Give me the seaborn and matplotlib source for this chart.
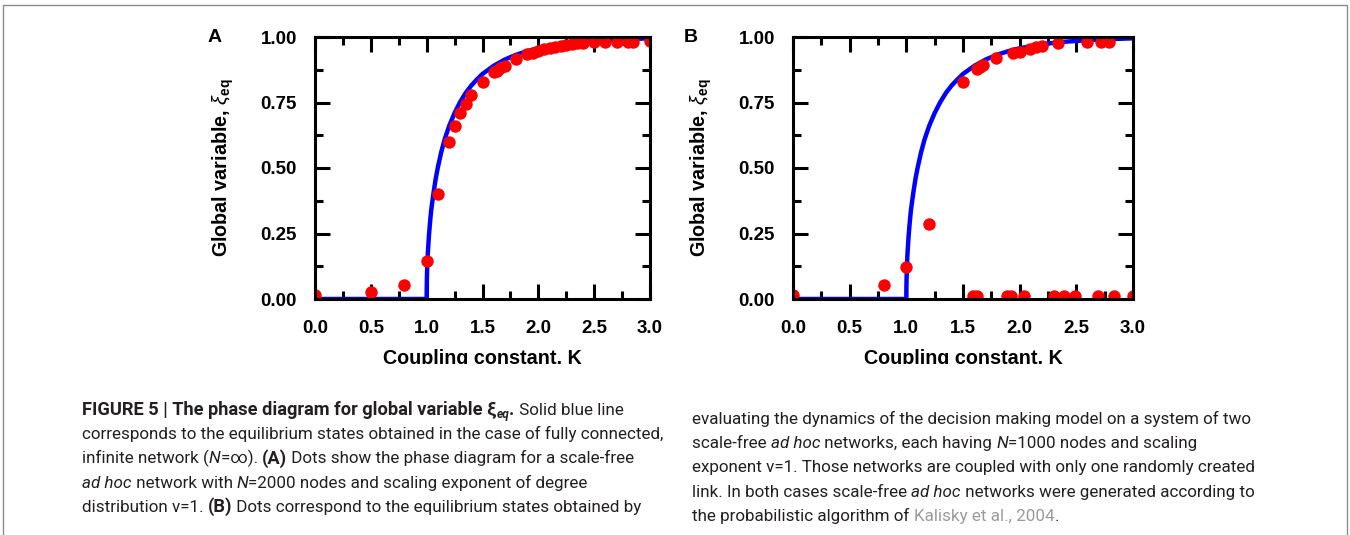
import numpy as np
import pandas as pd
import matplotlib
matplotlib.use("Agg")
import matplotlib.pyplot as plt
import seaborn as sns
from matplotlib.transforms import IdentityTransform
from matplotlib.patches import Rectangle

# ---------------- data ----------------
curve_k = [0.0, 0.5, 1.0, 1.0005, 1.002, 1.005, 1.01, 1.02, 1.03, 1.04, 1.06, 1.08,
           1.1, 1.13, 1.16, 1.2, 1.25, 1.3, 1.35, 1.4, 1.45, 1.5, 1.6, 1.7, 1.8, 1.9,
           2.0, 2.2, 2.4, 2.6, 2.8, 3.0]
curve_xi = [0.0, 0.0, 0.0, 0.039, 0.077, 0.122, 0.172, 0.24, 0.292, 0.337, 0.401, 0.457,
            0.502, 0.56, 0.608, 0.659, 0.71, 0.752, 0.787, 0.815, 0.838, 0.859, 0.89, 0.914,
            0.932, 0.946, 0.957, 0.973, 0.982, 0.988, 0.992, 0.995]

a_k = [0.0, 0.5, 0.8, 1.0, 1.1, 1.2, 1.25, 1.3, 1.35, 1.4, 1.5, 1.6, 1.63, 1.66, 1.7,
       1.8, 1.9, 1.95, 2.0, 2.05, 2.1, 2.15, 2.2, 2.25, 2.3, 2.35, 2.4, 2.5, 2.6, 2.7,
       2.8, 2.85, 3.0]
a_xi = [0.015, 0.027, 0.052, 0.145, 0.40, 0.60, 0.66, 0.71, 0.745, 0.78, 0.83, 0.865,
        0.872, 0.88, 0.89, 0.915, 0.935, 0.94, 0.948, 0.953, 0.957, 0.962, 0.966, 0.97,
        0.975, 0.978, 0.978, 0.98, 0.98, 0.98, 0.982, 0.982, 0.985]

b_k = [0.0, 0.8, 1.0, 1.2, 1.5, 1.62, 1.65, 1.68, 1.79, 1.94, 2.0, 2.09, 2.14, 2.2,
       2.34, 2.59, 2.72, 2.79,
       1.59, 1.62, 1.89, 1.92, 2.04, 2.3, 2.39, 2.49, 2.69, 2.83, 3.0]
b_xi = [0.015, 0.052, 0.121, 0.285, 0.829, 0.877, 0.884, 0.893, 0.918, 0.94, 0.944, 0.955,
        0.96, 0.966, 0.976, 0.98, 0.982, 0.982,
        0.01, 0.01, 0.01, 0.01, 0.01, 0.01, 0.01, 0.01, 0.01, 0.01, 0.01]

x_ticks = [0.0, 0.5, 1.0, 1.5, 2.0, 2.5, 3.0]
x_tick_labels = ["0.0", "0.5", "1.0", "1.5", "2.0", "2.5", "3.0"]
x_minor = [0.25, 0.75, 1.25, 1.75, 2.25, 2.75]
y_ticks = [0.0, 0.25, 0.5, 0.75, 1.0]
y_tick_labels = ["0.00", "0.25", "0.50", "0.75", "1.00"]
y_minor = [0.125, 0.375, 0.625, 0.875]

panel_letters = ["A", "B"]
x_label = "Coupling constant, K"
y_label = r"Global variable, $\xi_{\mathbf{eq}}$"

# ---------------- style ----------------
sns.set_theme(style="white")
plt.rcParams["font.family"] = ["Liberation Sans", "DejaVu Sans"]
plt.rcParams["mathtext.fontset"] = "custom"
plt.rcParams["mathtext.rm"] = "Liberation Sans"
plt.rcParams["mathtext.bf"] = "Liberation Sans:bold"
plt.rcParams["mathtext.it"] = "Liberation Sans:italic"

W, H = 1350, 535
fig = plt.figure(figsize=(W / 100, H / 100), dpi=100)
fig.patch.set_facecolor("white")

axA = fig.add_axes([315 / W, 1 - 299 / H, 335 / W, 262 / H])
axB = fig.add_axes([793 / W, 1 - 299 / H, 340 / W, 262 / H])

for ax, kk, xx, letter in [(axA, a_k, a_xi, panel_letters[0]), (axB, b_k, b_xi, panel_letters[1])]:
    sns.lineplot(x=curve_k, y=curve_xi, ax=ax, color="#0000ff", linewidth=3.2,
                 estimator=None, sort=False, zorder=2)
    sns.scatterplot(x=kk, y=xx, ax=ax, color="#ff0000", s=80, linewidth=0, zorder=3)
    ax.set_xlim(0, 3)
    ax.set_ylim(0, 1)
    ax.set_xticks(x_ticks)
    ax.set_xticklabels(x_tick_labels)
    ax.set_xticks(x_minor, minor=True)
    ax.set_yticks(y_ticks)
    ax.set_yticklabels(y_tick_labels)
    ax.set_yticks(y_minor, minor=True)
    ax.tick_params(which="major", direction="in", length=11, width=2.2, color="black",
                   top=True, right=True, bottom=True, left=True, labelsize=13.5)
    ax.tick_params(axis="x", which="major", pad=15)
    ax.tick_params(axis="y", which="major", pad=13)
    ax.tick_params(which="minor", direction="in", length=5.5, width=2.2, color="black",
                   top=True, right=True, bottom=True, left=True)
    for lab in ax.get_xticklabels() + ax.get_yticklabels():
        lab.set_fontweight("bold")
        lab.set_color("black")
    for sp in ax.spines.values():
        sp.set_visible(True)
        sp.set_linewidth(2.2)
        sp.set_color("black")
        sp.set_zorder(5)
    ax.set_xlabel(x_label, fontsize=14.2, fontweight="bold", labelpad=9, color="black")
    ax.set_ylabel(y_label, fontsize=14.2, fontweight="bold", labelpad=18, color="black")
    ax.text(-0.3, 1.0, letter, transform=ax.transAxes, fontsize=14, fontweight="bold",
            ha="center", va="center", color="black")
    ax.set_facecolor("white")

# clip the bottom of the axis titles as in the reference
fig.add_artist(Rectangle((300 / W, 1 - 376 / H), 860 / W, 12.5 / H, transform=fig.transFigure,
                         facecolor="white", edgecolor="none", zorder=10))

# ---------------- caption ----------------
renderer = fig.canvas.get_renderer()
cap_color = "#231f20"
cap_family = ["Liberation Sans Narrow", "DejaVu Sans Condensed", "Roboto", "DejaVu Sans"]


def measure(text, size, **kw):
    t1 = fig.text(0, 0, text + "|", fontsize=size, family=cap_family, **kw)
    t2 = fig.text(0, 0, "|", fontsize=size, family=cap_family, **kw)
    w = t1.get_window_extent(renderer).width - t2.get_window_extent(renderer).width
    t1.remove()
    t2.remove()
    return w


ref_line = "corresponds to the equilibrium states obtained in the case of fully connected,"
cap_size = 12.0 * 578 / measure(ref_line, 12.0)

B = dict(fontweight="bold")
I = dict(fontstyle="italic")
N0 = dict()
G = dict(color="#9a9a9a")
SUB = "sub"

left_lines = [
    [("FIGURE 5 | The phase diagram for global variable \u03be", B), ("eq", SUB), (".", B),
     (" Solid blue line", N0)],
    [(ref_line, N0)],
    [("infinite network (", N0), ("N", I), ("=\u221e). ", N0), ("(A)", B),
     (" Dots show the phase diagram for a scale-free", N0)],
    [("ad hoc", I), (" network with ", N0), ("N", I),
     ("=2000 nodes and scaling exponent of degree", N0)],
    [("distribution \u03bd=1. ", N0), ("(B)", B),
     (" Dots correspond to the equilibrium states obtained by", N0)],
]
right_lines = [
    [("evaluating the dynamics of the decision making model on a system of two", N0)],
    [("scale-free ", N0), ("ad hoc", I), (" networks, each having ", N0), ("N", I),
     ("=1000 nodes and scaling", N0)],
    [("exponent \u03bd=1. Those networks are coupled with only one randomly created", N0)],
    [("link. In both cases scale-free ", N0), ("ad hoc", I),
     (" networks were generated according to", N0)],
    [("the probabilistic algorithm of ", N0), ("Kalisky et al., 2004", G), (".", N0)],
]


def draw_lines(x0, y_first, lines, spacing):
    for i, segs in enumerate(lines):
        y = H - (y_first + i * spacing)
        x = x0
        for text, kw in segs:
            if kw == SUB:
                size = cap_size * 0.7
                kws = dict(fontweight="bold", fontstyle="italic")
                fig.text(x, y - 3, text, transform=IdentityTransform(), fontsize=size,
                         family=cap_family, color=cap_color, ha="left", va="baseline", **kws)
                x += measure(text, size, **kws)
            else:
                kws = dict(kw)
                col = kws.pop("color", cap_color)
                size = cap_size * (1.08 if kws.get("fontweight") == "bold" else 1.0)
                fig.text(x, y, text, transform=IdentityTransform(), fontsize=size,
                         family=cap_family, color=col, ha="left", va="baseline", **kws)
                x += measure(text, size, **kws)


draw_lines(82, 415, left_lines, 24.2)
draw_lines(692, 424, right_lines, 24.2)

# outer grey frame
fig.add_artist(Rectangle((3 / W, -0.05), 1344 / W, 1.05 - 5 / H, transform=fig.transFigure,
                         fill=False, edgecolor="#8c8c8c", linewidth=1.0))

fig.savefig("out.png", dpi=100, facecolor="white")
